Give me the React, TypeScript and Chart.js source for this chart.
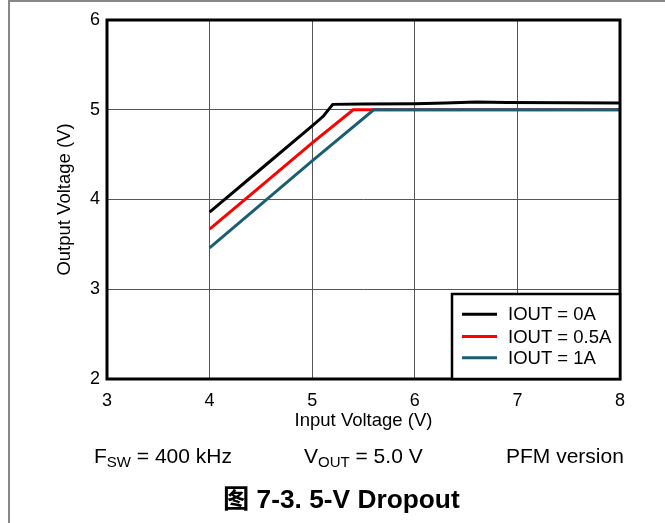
import React, { useEffect, useRef } from "react";
import { Chart, registerables } from "chart.js";

Chart.register(...registerables);

// ---- Data ----
const seriesLabels = ["IOUT = 0A", "IOUT = 0.5A", "IOUT = 1A"];
const seriesColors = ["#000000", "#ff0000", "#1b5e70"];

const vin0A = [4.0, 4.5, 5.0, 5.11, 5.2, 5.5, 6.0, 6.3, 6.6, 6.9, 7.5, 8.0];
const vout0A = [3.86, 4.34, 4.82, 4.93, 5.06, 5.065, 5.068, 5.076, 5.086, 5.082, 5.078, 5.075];

const vin05A = [4.0, 4.5, 5.0, 5.4, 8.0];
const vout05A = [3.67, 4.15, 4.63, 5.0, 5.0];

const vin1A = [4.0, 4.5, 5.0, 5.6, 8.0];
const vout1A = [3.46, 3.945, 4.43, 5.0, 5.0];

const xTicks = [3, 4, 5, 6, 7, 8];
const yTicks = [2, 3, 4, 5, 6];

const FONT = "'Liberation Sans', Arial, 'Noto Sans CJK SC', sans-serif";

const toPoints = (xs: number[], ys: number[]) => xs.map((x, i) => ({ x, y: ys[i] }));

const framePlugin = {
  id: "frameAndLegend",
  afterDatasetsDraw(chart: any) {
    const { ctx, chartArea } = chart;
    const { left, top, right, bottom } = chartArea;
    ctx.save();
    // plot frame
    ctx.strokeStyle = "#000";
    ctx.lineWidth = 3;
    ctx.strokeRect(left, top, right - left, bottom - top);

    // legend box
    const bw = 168;
    const bh = 85;
    const bx = right - bw;
    const by = bottom - bh;
    ctx.fillStyle = "#fff";
    ctx.fillRect(bx, by, bw, bh);
    ctx.lineWidth = 2.5;
    ctx.strokeRect(bx, by, bw, bh);

    const rows = [20.3, 42.5, 63.7];
    chart.data.datasets.forEach((ds: any, i: number) => {
      const y = by + rows[i];
      ctx.strokeStyle = ds.borderColor;
      ctx.lineWidth = 3;
      ctx.beginPath();
      ctx.moveTo(bx + 10, y);
      ctx.lineTo(bx + 45, y);
      ctx.stroke();
      ctx.fillStyle = "#000";
      ctx.font = `18.5px ${FONT}`;
      ctx.textAlign = "left";
      ctx.textBaseline = "middle";
      ctx.fillText(ds.label, bx + 56, y + 1);
    });
    ctx.restore();
  },
};

function ChartCanvas() {
  const ref = useRef<HTMLCanvasElement | null>(null);
  useEffect(() => {
    if (!ref.current) return;
    const vins = [vin0A, vin05A, vin1A];
    const vouts = [vout0A, vout05A, vout1A];
    const chart = new Chart(ref.current, {
      type: "line",
      data: {
        datasets: seriesLabels.map((label, i) => ({
          label,
          data: toPoints(vins[i], vouts[i]),
          borderColor: seriesColors[i],
          backgroundColor: seriesColors[i],
          borderWidth: 3,
          pointRadius: 0,
          tension: 0,
          fill: false,
          order: 2 - i,
        })),
      },
      options: {
        animation: false,
        responsive: false,
        devicePixelRatio: 1,
        layout: { padding: { left: 54, top: 20, right: 45, bottom: 91 } },
        plugins: {
          legend: { display: false },
          tooltip: { enabled: false },
        },
        scales: {
          x: {
            type: "linear",
            min: 3,
            max: 8,
            afterBuildTicks: (s: any) => {
              s.ticks = xTicks.map((v) => ({ value: v }));
            },
            ticks: {
              padding: 11,
              color: "#000",
              font: { family: FONT, size: 18 },
            },
            grid: { color: "#555", lineWidth: 1, drawTicks: false },
            border: { display: false },
            title: {
              display: true,
              text: "Input Voltage (V)",
              color: "#000",
              font: { family: FONT, size: 18.5 },
              padding: 0,
            },
            afterFit: (s: any) => {
              s.height = 53;
            },
          },
          y: {
            type: "linear",
            min: 2,
            max: 6,
            afterBuildTicks: (s: any) => {
              s.ticks = yTicks.map((v) => ({ value: v }));
            },
            ticks: {
              padding: 7,
              color: "#000",
              font: { family: FONT, size: 18 },
            },
            grid: { color: "#555", lineWidth: 1, drawTicks: false },
            border: { display: false },
            title: {
              display: true,
              text: "Output Voltage (V)",
              color: "#000",
              font: { family: FONT, size: 18.5 },
              padding: 0,
            },
            afterFit: (s: any) => {
              s.width = 53;
            },
          },
        },
      } as any,
      plugins: [framePlugin],
    });
    return () => chart.destroy();
  }, []);
  return (
    <canvas
      ref={ref}
      width={665}
      height={523}
      style={{ position: "absolute", left: 0, top: 0, width: 665, height: 523 }}
    />
  );
}

export default function App() {
  const txt: React.CSSProperties = {
    position: "absolute",
    fontFamily: FONT,
    fontSize: 21,
    lineHeight: "21px",
    whiteSpace: "nowrap",
    color: "#000",
  };
  const sub: React.CSSProperties = { fontSize: 15, position: "relative", top: 4 };
  return (
    <div
      style={{
        position: "fixed",
        left: 0,
        top: 0,
        width: 665,
        height: 523,
        overflow: "hidden",
        background: "#fff",
      }}
    >
      <div
        style={{
          position: "absolute",
          left: 8,
          top: 0,
          width: 700,
          height: 600,
          borderLeft: "2px solid #888",
          borderTop: "2px solid #888",
        }}
      />
      <ChartCanvas />
      <div style={{ ...txt, left: 94, top: 445 }}>
        F<span style={sub}>SW</span> = 400 kHz
      </div>
      <div style={{ ...txt, left: 304, top: 445 }}>
        V<span style={sub}>OUT</span> = 5.0 V
      </div>
      <div style={{ ...txt, left: 506, top: 445 }}>PFM version</div>
      <div
        style={{
          ...txt,
          left: 223,
          top: 486,
          fontSize: 26.3,
          lineHeight: "26px",
          fontWeight: "bold",
        }}
      >
        图 7-3. 5-V Dropout
      </div>
    </div>
  );
}
